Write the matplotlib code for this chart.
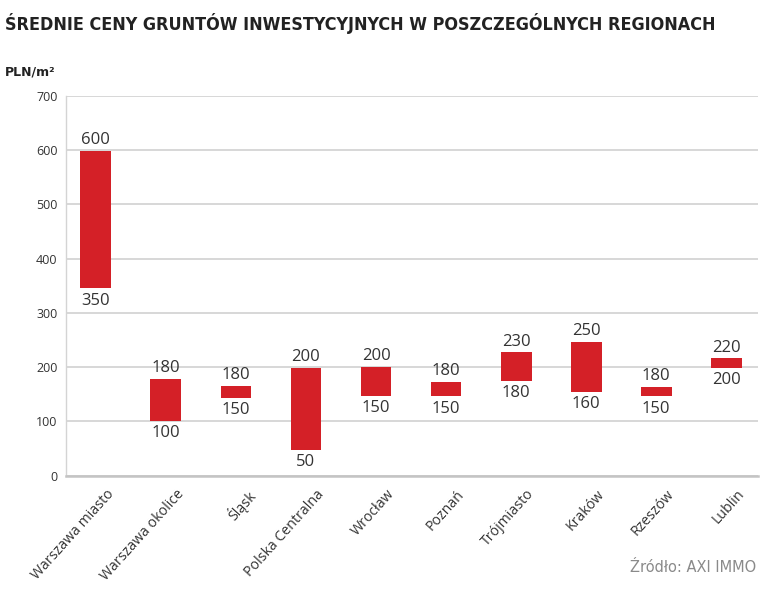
import matplotlib
matplotlib.use("Agg")
import matplotlib.pyplot as plt
import matplotlib.transforms as mtransforms

# Values.
regions = [
    "Warszawa miasto", "Warszawa okolice", "Śląsk", "Polska Centralna", "Wrocław",
    "Poznań", "Trójmiasto", "Kraków", "Rzeszów", "Lublin",
]
label_high = [600, 180, 180, 200, 200, 180, 230, 250, 180, 220]
label_low = [350, 100, 150, 50, 150, 150, 180, 160, 150, 200]
# bar extents as drawn in the picture (they differ slightly from the labels)
bar_high = [599, 178, 165, 198, 200, 173, 227, 247, 163, 216]
bar_low = [345, 101, 144, 47, 147, 146, 175, 154, 146, 199]
y_ticks = [0, 100, 200, 300, 400, 500, 600, 700]

RED = "#d42027"
TEXT = "#333333"
GRID = "#d4d4d4"

plt.rcParams["font.family"] = ["Open Sans", "DejaVu Sans"]

fig = plt.figure(figsize=(7.77, 6.0), dpi=100)
ax = fig.add_axes([0.0846, 0.2072, 0.8906, 0.6333])

x = list(range(len(regions)))
heights = [h - l for h, l in zip(bar_high, bar_low)]
ax.bar(x, heights, bottom=bar_low, width=0.44, color=RED, zorder=3)

for xi, hi, lo, bh, bl in zip(x, label_high, label_low, bar_high, bar_low):
    ax.annotate(str(hi), (xi, bh), xytext=(0, 2), textcoords="offset points",
                ha="center", va="bottom", fontsize=12, color=TEXT)
    ax.annotate(str(lo), (xi, bl), xytext=(0, -3), textcoords="offset points",
                ha="center", va="top", fontsize=12, color=TEXT)

ax.set_xlim(-0.43, 9.45)
ax.set_ylim(0, 700)
ax.set_yticks(y_ticks)
ax.yaxis.grid(True, color=GRID, linewidth=1.3, zorder=0)
ax.set_axisbelow(True)
for side in ("top", "right"):
    ax.spines[side].set_visible(False)
ax.spines["left"].set_color(GRID)
ax.spines["left"].set_linewidth(1.0)
ax.spines["bottom"].set_color("#c4c4c4")
ax.spines["bottom"].set_linewidth(1.8)
ax.tick_params(axis="y", length=0, pad=6, labelsize=9, labelcolor=TEXT)
ax.tick_params(axis="x", length=0, pad=8, labelsize=10.2, labelcolor=TEXT)

ax.set_xticks(x)
ax.set_xticklabels(regions, rotation=48, ha="right", rotation_mode="anchor")
shift = mtransforms.ScaledTranslation(7.5 / 72, 0, fig.dpi_scale_trans)
for lbl in ax.get_xticklabels():
    lbl.set_transform(lbl.get_transform() + shift)

title_fam = ["DejaVu Sans"]
fig.text(0.006, 0.96, "ŚREDNIE CENY GRUNTÓW INWESTYCYJNYCH W POSZCZEGÓLNYCH REGIONACH",
         fontsize=12.9, fontweight="bold", fontstretch="condensed", color="#222222",
         va="center", family=title_fam)
fig.text(0.006, 0.88, "PLN/m²", fontsize=9, fontweight="bold", color="#222222",
         va="center", family=title_fam)
fig.text(0.973, 0.055, "Źródło: AXI IMMO", fontsize=10.5, color="#8a8a8a",
         ha="right", va="center", family=title_fam)

fig.savefig("out.png", dpi=100)
